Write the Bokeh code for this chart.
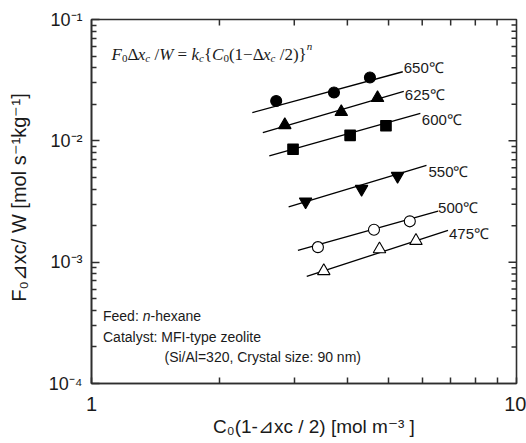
import math
from bokeh.plotting import figure
from bokeh.models import Label, FixedTicker
from bokeh.embed import file_html
from bokeh.resources import INLINE

# ---------------- data ----------------
series_names = ["650℃", "625℃", "600℃", "550℃", "500℃", "475℃"]

x650 = [2.72, 3.72, 4.52]
y650 = [0.0213, 0.0250, 0.0333]
x625 = [2.85, 3.87, 4.71]
y625 = [0.0135, 0.0173, 0.0226]
x600 = [2.98, 4.06, 4.93]
y600 = [0.00853, 0.0111, 0.0133]
x550 = [3.19, 4.32, 5.25]
y550 = [0.00316, 0.00401, 0.00513]
x500 = [3.41, 4.62, 5.61]
y500 = [0.00133, 0.00185, 0.00217]
x475 = [3.52, 4.76, 5.80]
y475 = [0.000845, 0.00128, 0.00150]

# fitted straight lines (end points)
fx650 = [2.39, 5.40]; fy650 = [0.0171, 0.0371]
fx625 = [2.53, 5.43]; fy625 = [0.0117, 0.0256]
fx600 = [2.62, 5.94]; fy600 = [0.0075, 0.0168]
fx550 = [2.91, 6.14]; fy550 = [0.00285, 0.00629]
fx500 = [3.06, 6.54]; fy500 = [0.00125, 0.00264]
fx475 = [3.21, 6.90]; fy475 = [0.000763, 0.00183]

x_ticks = [1, 10]
x_tick_labels = ["1", "10"]
x_minor = [2, 3, 4, 5, 6, 7, 8, 9]
y_ticks = [1e-4, 1e-3, 1e-2, 1e-1]
y_tick_labels = ["10⁻⁴", "10⁻³", "10⁻²", "10⁻¹"]
y_minor = [m * 10.0 ** e for e in (-4, -3, -2) for m in range(2, 10)]

x_title = "\u00a0\u00a0\u00a0C₀(1-⊿xc / 2) [mol m⁻³ ]"
y_title = "F₀⊿xc/ W [mol s⁻¹kg⁻¹]"

# ---------------- figure ----------------
W, H = 526, 443
FL, FR, FT, FB = 91, 516, 19, 383  # frame in pixels
XMIN, XMAX, YMIN, YMAX = 1, 10, 1e-4, 1e-1

p = figure(width=W, height=H, x_axis_type="log", y_axis_type="log",
           x_range=(XMIN, XMAX), y_range=(YMIN, YMAX),
           output_backend="svg", toolbar_location=None,
           min_border_left=FL, min_border_right=W - FR,
           min_border_top=FT, min_border_bottom=H - FB)
p.grid.visible = False
p.background_fill_color = None
p.border_fill_color = "white"

AX = "#2e2e2e"
TXT = "#1a1a1a"
SANS = "Liberation Sans"
SERIF = "Liberation Serif"

p.outline_line_color = AX
p.outline_line_width = 1.6


def style_axis(ax, label_size, standoff, major_in, minor_in):
    ax.axis_line_color = AX
    ax.axis_line_width = 1.6
    ax.major_tick_in = major_in
    ax.major_tick_out = 0
    ax.minor_tick_in = minor_in
    ax.minor_tick_out = 0
    ax.major_tick_line_color = AX
    ax.minor_tick_line_color = AX
    ax.major_tick_line_width = 1.5
    ax.minor_tick_line_width = 1.5
    ax.major_label_text_font = SANS
    ax.major_label_text_font_size = label_size
    ax.major_label_text_color = TXT
    ax.major_label_standoff = standoff


p.xaxis.ticker = FixedTicker(ticks=x_ticks, minor_ticks=x_minor)
p.xaxis.major_label_overrides = dict(zip(x_ticks, x_tick_labels))
style_axis(p.xaxis[0], "20px", 13, 6, 6)
p.xaxis.axis_label = x_title
p.xaxis.axis_label_text_font = SANS
p.xaxis.axis_label_text_font_style = "normal"
p.xaxis.axis_label_text_font_size = "19px"
p.xaxis.axis_label_text_color = TXT
p.xaxis.axis_label_standoff = 2

p.yaxis.ticker = FixedTicker(ticks=y_ticks, minor_ticks=y_minor)
p.yaxis.major_label_overrides = dict(zip(y_ticks, y_tick_labels))
style_axis(p.yaxis[0], "18px", 9, 8, 5)
p.yaxis.axis_label = y_title
p.yaxis.axis_label_text_font = SANS
p.yaxis.axis_label_text_font_style = "normal"
p.yaxis.axis_label_text_font_size = "20px"
p.yaxis.axis_label_text_color = TXT
p.yaxis.axis_label_standoff = 16

# ---------------- mirrored inward ticks on the top and right edges ----------------
fx_px = lambda n: 10 ** (n / (FR - FL))                            # n px along x
fy_px = lambda n: 10 ** (n * math.log10(YMAX / YMIN) / (FB - FT))  # n px along y

TW = 1.5
tx = x_minor
p.segment(x0=tx, y0=[YMAX] * len(tx), x1=tx, y1=[YMAX / fy_px(6)] * len(tx),
          line_color=AX, line_width=TW)
ty = y_ticks[1:-1]
p.segment(x0=[XMAX] * len(ty), y0=ty, x1=[XMAX / fx_px(8)] * len(ty), y1=ty,
          line_color=AX, line_width=TW)
tm = y_minor
p.segment(x0=[XMAX] * len(tm), y0=tm, x1=[XMAX / fx_px(5)] * len(tm), y1=tm,
          line_color=AX, line_width=TW)

# ---------------- lines and markers ----------------
fits = [(fx650, fy650), (fx625, fy625), (fx600, fy600),
        (fx550, fy550), (fx500, fy500), (fx475, fy475)]
pts = [(x650, y650), (x625, y625), (x600, y600),
       (x550, y550), (x500, y500), (x475, y475)]
markers = ["circle", "triangle", "square", "inverted_triangle", "circle", "triangle"]
fills = ["black", "black", "black", "black", "white", "white"]
sizes = [11, 12.5, 10.5, 12.5, 11, 12.5]

for (fx, fy) in fits:
    p.line(fx, fy, line_color="black", line_width=1.3)
for (xs, ys), mk, fc, sz in zip(pts, markers, fills, sizes):
    p.scatter(xs, ys, marker=mk, size=sz, fill_color=fc, line_color="black",
              line_width=1.1)

# temperature labels at the end of each line
lab_dx = [1, 1, 1.5, 2, 0, 1]
lab_dy = [4, -3, -6, -6.5, 4, -3]
for (fx, fy), name, dx, dy in zip(fits, series_names, lab_dx, lab_dy):
    p.add_layout(Label(x=fx[-1], y=fy[-1], x_offset=dx, y_offset=dy, text=name,
                       text_font=SANS, text_font_size="15px",
                       text_color=TXT, text_baseline="alphabetic",
                       text_align="left"))

# ---------------- rich text helper (inside the frame) ----------------
ARIAL = {' ': 278, '(': 333, ')': 333, '-': 333, '/': 278, ':': 278, '=': 584,
         '[': 278, ']': 278, ',': 278, '.': 278,
         'A': 667, 'C': 722, 'F': 611, 'I': 278, 'M': 833, 'S': 667, 'W': 944,
         'a': 556, 'b': 556, 'c': 500, 'd': 556, 'e': 556, 'f': 278, 'g': 556,
         'h': 556, 'i': 222, 'k': 500, 'l': 222, 'm': 833, 'n': 556, 'o': 556,
         'p': 556, 'r': 333, 's': 500, 't': 278, 'x': 500, 'y': 500, 'z': 500}
TIMES = {' ': 250, '(': 333, ')': 333, '/': 278, '=': 564, '{': 480, '}': 480,
         '−': 564, 'Δ': 612, 'F': 611, 'x': 444, 'W': 833, 'k': 444, 'C': 667,
         'n': 500, 'c': 444}


def seg_w(text, font, size):
    table = TIMES if font == SERIF else ARIAL
    return sum(table.get(ch, 500 if font == SERIF else 556) for ch in text) / 1000.0 * size


def px_to_data(px, py):
    x = XMIN * 10 ** ((px - FL) / (FR - FL))
    y = YMAX / 10 ** (math.log10(YMAX / YMIN) * (py - FT) / (FB - FT))
    return x, y


def rich(px, py, segs):
    ax, ay = px_to_data(px, py)
    adv = 0.0
    for text, font, fstyle, size, shift in segs:
        lead = text[:len(text) - len(text.lstrip())]
        body = text.strip()
        if body:
            p.add_layout(Label(x=ax, y=ay, x_offset=adv + seg_w(lead, font, size),
                               y_offset=shift, text=body,
                               text_font=font, text_font_style=fstyle,
                               text_font_size=f"{size}px", text_color=TXT,
                               text_baseline="alphabetic", text_align="left"))
        adv += seg_w(text, font, size)


# equation
rich(111, 53.5, [
    ("F", SERIF, "italic", 17, 0), ("0", SERIF, "normal", 11, -4),
    ("Δ", SERIF, "normal", 17, 0), ("x", SERIF, "italic", 17, 0),
    ("c", SERIF, "italic", 11, -4), (" /", SERIF, "normal", 17, 0),
    ("W", SERIF, "italic", 17, 0), (" = ", SERIF, "normal", 17, 0),
    ("k", SERIF, "italic", 17, 0), ("c", SERIF, "italic", 11, -4),
    ("{", SERIF, "normal", 17, 0), ("C", SERIF, "italic", 17, 0),
    ("0", SERIF, "normal", 11, -4), ("(1−Δ", SERIF, "normal", 17, 0),
    ("x", SERIF, "italic", 17, 0), ("c", SERIF, "italic", 11, -4),
    (" /2)}", SERIF, "normal", 17, 0), ("n", SERIF, "italic", 11, 8),
])

# notes
rich(102.5, 315, [("Feed: ", SANS, "normal", 14, 0), ("n", SANS, "italic", 14, 0),
                  ("-hexane", SANS, "normal", 14, 0)])
rich(102.5, 336, [("Catalyst: MFI-type zeolite", SANS, "normal", 14, 0)])
rich(164, 356.5, [("(Si/Al=320, Crystal size: 90 nm)", SANS, "normal", 14, 0)])

open("out.html", "w").write(file_html(p, INLINE))
